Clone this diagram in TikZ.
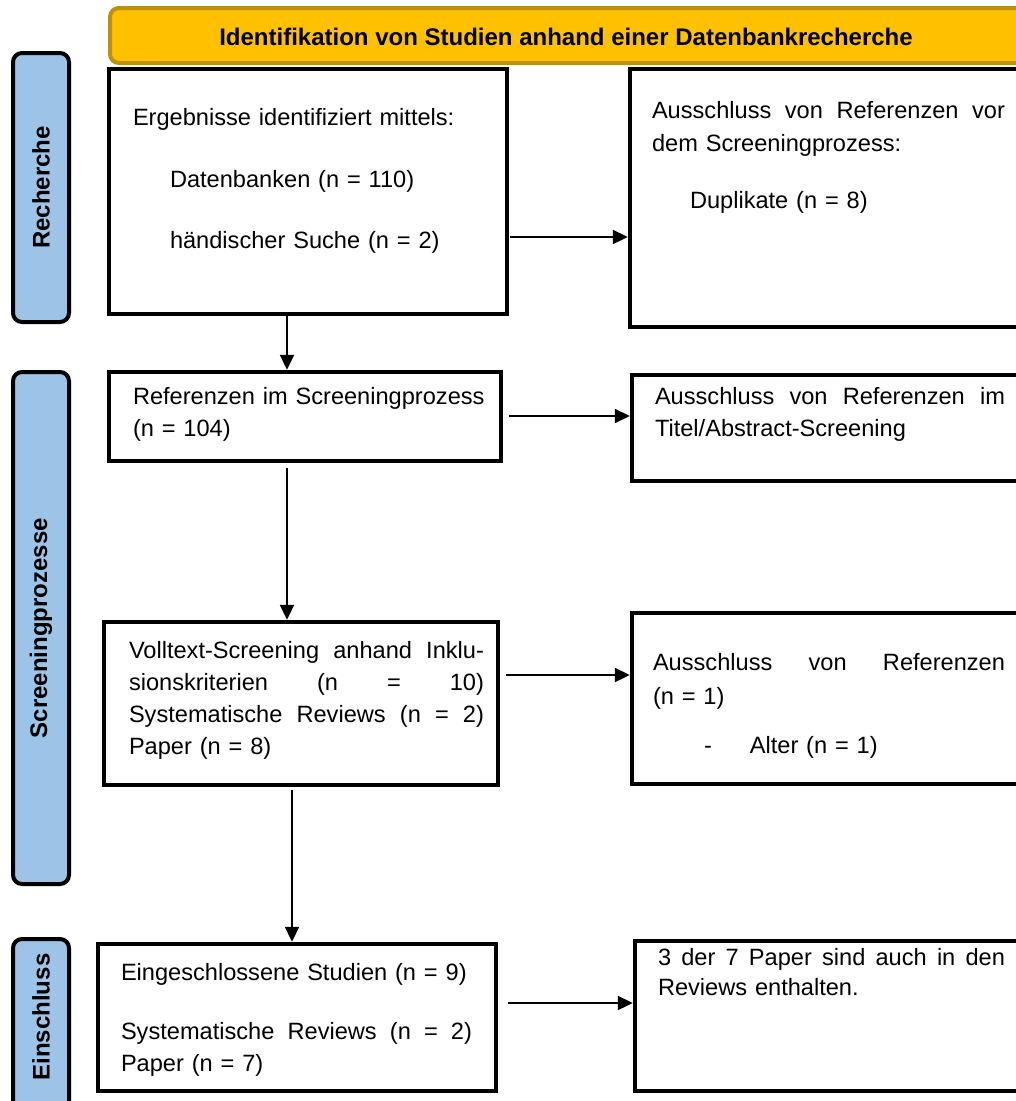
\documentclass[tikz,border=0pt]{standalone}
\usepackage{fontspec}
\setmainfont{Liberation Sans}
\usetikzlibrary{arrows.meta}

\definecolor{bannerfill}{HTML}{FFC000}
\definecolor{bannerline}{HTML}{BF9000}
\definecolor{phaseblue}{HTML}{9DC3E6}

\newcommand\bodyfont{\fontsize{23.6}{32}\selectfont}
\newcommand\headfont{\fontsize{24}{32}\selectfont\bfseries}
% a line spread to a given width; the word gaps are \hfill
\newcommand\jline[2]{\makebox[#1][l]{#2}}

\tikzset{
  box/.style={draw, line width=4.5pt, inner sep=0pt, outer sep=0pt, anchor=north west},
  phase/.style={draw, line width=4pt, fill=phaseblue, rounded corners=9pt,
    inner sep=0pt, outer sep=0pt, anchor=north west},
  phaselabel/.style={rotate=90, font=\headfont, inner sep=0pt},
  txt/.style={anchor=base west, inner sep=0pt, outer sep=0pt, align=left, font=\bodyfont},
  arr/.style={line width=2pt, -{Triangle[length=15pt,width=14pt]}, shorten >=2.2pt}
}

\begin{document}
\begin{tikzpicture}[x=1pt, y=-1pt]
\useasboundingbox (0,0) rectangle (1016,1101);
\clip (0,0) rectangle (1016,1101);

% banner
\node[draw=bannerline, fill=bannerfill, line width=4pt, rounded corners=9pt,
  minimum width=930pt, minimum height=55pt, inner sep=0pt, anchor=north west]
  (banner) at (108,6) {};
\node[font=\headfont, anchor=base, inner sep=0pt] (title) at (566,45)
  {Identifikation von Studien anhand einer Datenbankrecherche};

% phase bars
\node[phase, minimum width=56pt, minimum height=269pt] (p1) at (13,53) {};
\node[phaselabel] (p1l) at (p1.center) {Recherche};
\node[phase, minimum width=56pt, minimum height=512pt] (p2) at (13,372) {};
\node[phaselabel] (p2l) at (p2.center) {Screeningprozesse};
\node[phase, minimum width=56pt, minimum height=180pt] (p3) at (13,939) {};
\node[phaselabel] (p3l) at (41,1017) {Einschluss};

% left column
\node[box, minimum width=398pt, minimum height=245pt] (b1) at (109,69) {};
\node[box, minimum width=392pt, minimum height=89pt]  (b3) at (109,372) {};
\node[box, minimum width=394pt, minimum height=163pt] (b5) at (104,622) {};
\node[box, minimum width=398pt, minimum height=147pt] (b7) at (98,944) {};

% right column
\node[box, minimum width=400pt, minimum height=258pt] (b2) at (630,69) {};
\node[box, minimum width=400pt, minimum height=106pt] (b4) at (632,375) {};
\node[box, minimum width=400pt, minimum height=171pt] (b6) at (632,613) {};
\node[box, minimum width=400pt, minimum height=150pt] (b8) at (635,941) {};

% texts
\node[txt, text width=360pt] (t1) at (133,125)
  {Ergebnisse identifiziert mittels:\\[30pt]\hspace*{37pt}Datenbanken (n = 110)\\[29pt]\hspace*{37pt}händischer Suche (n = 2)};
\node[txt, text width=360pt] (t2) at (652,118)
  {\jline{353pt}{Ausschluss\hfill von\hfill Referenzen\hfill vor}\\[1pt]dem Screeningprozess:\\[25pt]\hspace*{38pt}Duplikate (n = 8)};
\node[txt, text width=360pt] (t3) at (133,404)
  {Referenzen im Screeningprozess\\(n = 104)};
\node[txt, text width=360pt] (t4) at (655,404)
  {\jline{350pt}{Ausschluss\hfill von\hfill Referenzen\hfill im}\\Titel/Abstract-Screening};
\node[txt, text width=360pt] (t5) at (129,658)
  {\jline{355pt}{Volltext-Screening\hfill anhand\hfill Inklu-}\\
   \jline{355pt}{sionskriterien\hfill (n\hfill =\hfill 10)}\\
   \jline{355pt}{Systematische\hfill Reviews\hfill (n\hfill =\hfill 2)}\\
   Paper (n = 8)};
\node[txt, text width=360pt] (t6) at (653,670)
  {\jline{352pt}{Ausschluss\hfill von\hfill Referenzen}\\[2pt](n = 1)\\[17pt]\hspace*{51pt}-\hspace{38pt}Alter (n = 1)};
\node[txt, text width=360pt] (t7) at (121,980)
  {Eingeschlossene Studien (n = 9)\\[27pt]\jline{351pt}{Systematische\hfill Reviews\hfill (n\hfill =\hfill 2)}\\Paper (n = 7)};
\node[txt, text width=360pt] (t8) at (658,965)
  {\jline{347pt}{3\hfill der\hfill 7\hfill Paper\hfill sind\hfill auch\hfill in\hfill den}\\[-2pt]Reviews enthalten.};

% connectors
\coordinate (r1) at (0,237);
\coordinate (r2) at (0,416);
\coordinate (r3) at (0,675);
\coordinate (r4) at (0,1003);
\coordinate (c1) at (287,0);
\coordinate (c2) at (292,0);

\draw[arr, shorten <=3pt] (b1.east |- r1) -- (b2.west |- r1);
\draw[arr, shorten <=8pt] (b3.east |- r2) -- (b4.west |- r2);
\draw[arr, shorten <=8pt] (b5.east |- r3) -- (b6.west |- r3);
\draw[arr, shorten <=12pt] (b7.east |- r4) -- (b8.west |- r4);

\draw[arr] (b1.south -| c1) -- (b3.north -| c1);
\draw[arr, shorten <=7pt] (b3.south -| c1) -- (b5.north -| c1);
\draw[arr, shorten <=5pt] (b5.south -| c2) -- (b7.north -| c2);
\end{tikzpicture}
\end{document}
